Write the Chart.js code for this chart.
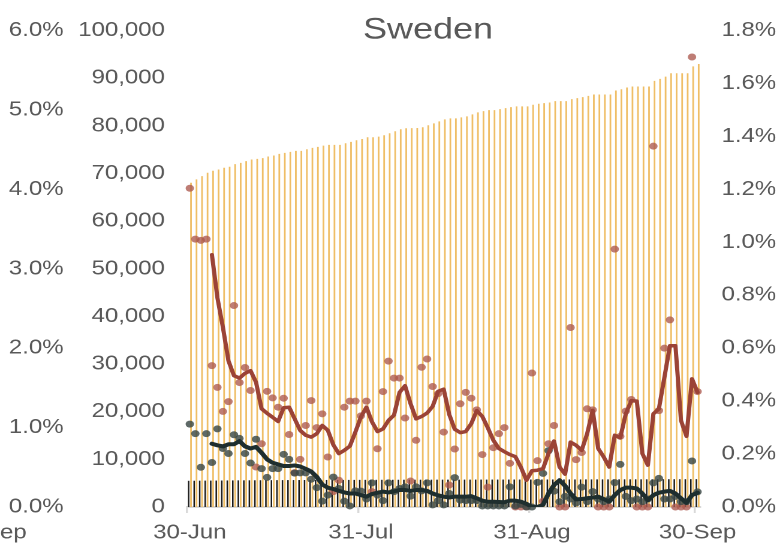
<!DOCTYPE html>
<html>
<head>
<meta charset="utf-8">
<title>Sweden</title>
<script src="https://cdn.jsdelivr.net/npm/chart.js@4.4.1/dist/chart.umd.min.js"></script>
<style>
	html, body { margin: 0; padding: 0; background: #fff; overflow: hidden; }
	#wrap { width: 648px; height: 552px; transform: scaleX(1.1991); transform-origin: 0 0; }
</style>
</head>
<body>
<div id="wrap"><canvas id="myChart" width="648" height="552"></canvas></div>
<script>
// labels shown on the date axis
const shownDates = ['30-Jun', '31-Jul', '31-Aug', '30-Sep'];
const titleText = 'Sweden';
const cutLabel = 'ep';

// cumulative confirmed cases (left inner axis)
const casesTotal = [
	68060, 68750, 69450, 70140, 70560, 70840, 71190, 71400, 71950, 72230,
	72580, 72930, 73070, 73210, 73560, 73760, 74110, 74320, 74530, 74740,
	74740, 75090, 75370, 75570, 75850, 75990, 75990, 75990, 76340, 76620,
	76960, 77240, 77590, 77590, 77730, 78010, 78430, 78850, 79270, 79480,
	79510, 79540, 79690, 80110, 80520, 80940, 81360, 81560, 81560, 81770,
	81980, 82400, 82820, 83090, 83300, 83300, 83510, 83720, 83920, 84070,
	84070, 84070, 84410, 84620, 84760, 84900, 85180, 85180, 85180, 85590,
	85800, 86010, 86290, 86570, 86570, 86570, 86570, 87410, 87680, 88030,
	88240, 88240, 88240, 88240, 89420, 89840, 90330, 91020, 91020, 91020,
	91020, 92480, 92970
];
// cumulative deaths (left inner axis)
const deathsTotal = [
	5500, 5510, 5525, 5540, 5545, 5550, 5560, 5575, 5585, 5595,
	5600, 5605, 5610, 5620, 5630, 5635, 5640, 5645, 5650, 5655,
	5660, 5662, 5665, 5670, 5672, 5675, 5678, 5680, 5685, 5688,
	5690, 5695, 5700, 5702, 5705, 5710, 5712, 5715, 5720, 5722,
	5725, 5728, 5730, 5732, 5735, 5738, 5740, 5741, 5742, 5745,
	5748, 5750, 5752, 5754, 5755, 5756, 5757, 5760, 5762, 5764,
	5765, 5766, 5768, 5770, 5772, 5775, 5778, 5779, 5780, 5782,
	5785, 5788, 5790, 5792, 5793, 5794, 5795, 5800, 5805, 5808,
	5810, 5811, 5812, 5815, 5820, 5825, 5830, 5832, 5833, 5834,
	5835, 5845, 5850
];
// daily case growth, % (right axis)
const caseGrowth = [
	1.204, 1.012, 1.007, 1.012, 0.534, 0.452, 0.361, 0.398, 0.761, 0.470,
	0.527, 0.440, 0.151, 0.239, 0.437, 0.412, 0.377, 0.411, 0.274, 0.130,
	0.180, 0.308, 0.402, 0.300, 0.352, 0.189, 0.058, 0.101, 0.377, 0.400,
	0.400, 0.344, 0.400, 0.058, 0.220, 0.436, 0.551, 0.487, 0.487, 0.336,
	0.098, 0.252, 0.528, 0.559, 0.455, 0.428, 0.283, 0.083, 0.219, 0.390,
	0.433, 0.411, 0.367, 0.198, 0.075, 0.224, 0.277, 0.300, 0.165, 0.000,
	0.000, 0.000, 0.506, 0.175, 0.022, 0.239, 0.308, 0.000, 0.000, 0.678,
	0.179, 0.206, 0.371, 0.367, 0.000, 0.000, 0.000, 0.974, 0.267, 0.362,
	0.406, 0.000, 0.000, 0.000, 1.363, 0.364, 0.600, 0.707, 0.000, 0.000,
	0.000, 1.700, 0.436
];
const caseGrowthAvg = [
	null, null, null, null, 0.953, 0.790, 0.678, 0.552, 0.496, 0.487,
	0.505, 0.515, 0.471, 0.371, 0.354, 0.339, 0.323, 0.375, 0.377, 0.333,
	0.289, 0.271, 0.264, 0.277, 0.308, 0.290, 0.235, 0.202, 0.214, 0.230,
	0.283, 0.340, 0.377, 0.322, 0.285, 0.295, 0.327, 0.347, 0.433, 0.458,
	0.390, 0.333, 0.342, 0.355, 0.380, 0.437, 0.445, 0.350, 0.294, 0.281,
	0.285, 0.315, 0.364, 0.342, 0.299, 0.252, 0.221, 0.209, 0.198, 0.190,
	0.150, 0.101, 0.137, 0.139, 0.145, 0.202, 0.249, 0.151, 0.124, 0.245,
	0.233, 0.214, 0.277, 0.365, 0.221, 0.189, 0.151, 0.271, 0.262, 0.352,
	0.402, 0.400, 0.202, 0.158, 0.352, 0.371, 0.490, 0.609, 0.609, 0.327,
	0.267, 0.484, 0.433
];
// daily death growth, % (right axis)
const deathGrowth = [
	0.313, 0.277, 0.150, 0.277, 0.168, 0.295, 0.221, 0.202, 0.273, 0.259,
	0.202, 0.166, 0.256, 0.145, 0.112, 0.145, 0.145, 0.199, 0.180, 0.128,
	0.129, 0.129, 0.105, 0.073, 0.022, 0.045, 0.113, 0.070, 0.022, 0.004,
	0.061, 0.060, 0.030, 0.091, 0.045, 0.024, 0.091, 0.058, 0.070, 0.076,
	0.041, 0.076, 0.061, 0.091, 0.008, 0.024, 0.008, 0.051, 0.111, 0.026,
	0.024, 0.024, 0.024, 0.004, 0.004, 0.004, 0.004, 0.004, 0.076, 0.004,
	0.010, 0.000, 0.000, 0.093, 0.127, 0.213, 0.060, 0.020, 0.040, 0.030,
	0.015, 0.075, 0.020, 0.058, 0.030, 0.020, 0.030, 0.092, 0.161, 0.040,
	0.024, 0.030, 0.020, 0.030, 0.091, 0.108, 0.030, 0.030, 0.040, 0.020,
	0.020, 0.174, 0.057
];
const deathGrowthAvg = [
	null, null, null, null, 0.239, 0.233, 0.229, 0.237, 0.237, 0.249,
	0.229, 0.221, 0.227, 0.205, 0.180, 0.167, 0.161, 0.155, 0.155, 0.157,
	0.153, 0.144, 0.134, 0.114, 0.085, 0.073, 0.068, 0.061, 0.055, 0.051,
	0.051, 0.045, 0.039, 0.049, 0.054, 0.058, 0.055, 0.059, 0.064, 0.064,
	0.061, 0.064, 0.064, 0.061, 0.051, 0.044, 0.039, 0.036, 0.039, 0.039,
	0.039, 0.041, 0.033, 0.024, 0.020, 0.020, 0.019, 0.018, 0.024, 0.024,
	0.020, 0.012, 0.000, 0.000, 0.008, 0.051, 0.083, 0.101, 0.080, 0.051,
	0.029, 0.030, 0.033, 0.036, 0.039, 0.030, 0.020, 0.045, 0.064, 0.073,
	0.073, 0.070, 0.051, 0.026, 0.045, 0.054, 0.058, 0.061, 0.051, 0.033,
	0.016, 0.045, 0.054
];

// one label per day from 30-Jun
const months = ['Jan', 'Feb', 'Mar', 'Apr', 'May', 'Jun', 'Jul', 'Aug', 'Sep', 'Oct', 'Nov', 'Dec'];
const dates = casesTotal.map((v, i) => {
	const d = new Date(2020, 5, 30 + i);
	return d.getDate() + '-' + months[d.getMonth()];
});
const tickIndex = dates.map((d, i) => shownDates.includes(d) ? i : -1).filter(i => i >= 0);

const FONT = '"Liberation Sans", Arial, sans-serif';
const GREY = '#595959';

const extraText = {
	id: 'extraText',
	afterDraw(chart) {
		const ctx = chart.ctx;
		ctx.save();
		ctx.fillStyle = GREY;
		ctx.textBaseline = 'middle';
		ctx.font = '30px ' + FONT;
		ctx.textAlign = 'center';
		ctx.fillText(titleText, 357, 30);
		ctx.font = '20px ' + FONT;
		ctx.textAlign = 'left';
		ctx.fillText(cutLabel, 0, 533);
		ctx.restore();
	}
};

const dotSet = (data, color, order) => ({
	type: 'line',
	data: data,
	yAxisID: 'yRate',
	showLine: false,
	pointRadius: 3.5,
	pointHoverRadius: 3.5,
	pointBorderWidth: 0,
	pointBackgroundColor: color,
	clip: false,
	order: order
});
const avgSet = (data, color, width, order) => ({
	type: 'line',
	data: data,
	yAxisID: 'yRate',
	borderColor: color,
	borderWidth: width,
	pointRadius: 0,
	tension: 0,
	borderJoinStyle: 'round',
	borderCapStyle: 'round',
	order: order
});

new Chart(document.getElementById('myChart'), {
	type: 'bar',
	data: {
		labels: dates,
		datasets: [
			{
				data: deathsTotal,
				yAxisID: 'yCount',
				backgroundColor: '#1a1a1a',
				categoryPercentage: 0.85,
				barPercentage: 0.65,
				order: 5
			},
			{
				data: casesTotal,
				yAxisID: 'yCount',
				backgroundColor: '#EFBE66',
				categoryPercentage: 0.85,
				barPercentage: 0.72,
				order: 6
			},
			dotSet(caseGrowth, 'rgba(172,88,78,0.78)', 4),
			dotSet(deathGrowth, 'rgba(58,72,70,0.82)', 3),
			avgSet(caseGrowthAvg, '#9B4336', 3.5, 1),
			avgSet(deathGrowthAvg, '#1E2E2E', 4, 0)
		]
	},
	options: {
		responsive: false,
		devicePixelRatio: 2,
		animation: false,
		layout: { padding: { top: 28, left: 0, right: 0, bottom: 0 } },
		plugins: { legend: { display: false }, tooltip: { enabled: false } },
		scales: {
			x: {
				offset: true,
				afterFit(s) { s.height = 45; },
				border: { display: true, color: '#d9d9d9', width: 2 },
				grid: {
					offset: true,
					drawOnChartArea: false,
					drawTicks: true,
					tickLength: 6,
					lineWidth: 1.7,
					color: (c) => tickIndex.includes(c.index) ? '#d9d9d9' : 'rgba(0,0,0,0)'
				},
				ticks: {
					autoSkip: false,
					maxRotation: 0,
					minRotation: 0,
					padding: 8,
					color: GREY,
					font: { family: FONT, size: 20 },
					callback: (v, i) => tickIndex.includes(i) ? dates[i] : ''
				}
			},
			yPct: {
				position: 'left',
				weight: 10,
				min: 0,
				max: 6,
				afterFit(s) { s.width = 56; },
				border: { display: false },
				grid: { display: false, drawTicks: false },
				ticks: {
					stepSize: 1,
					padding: 3,
					color: GREY,
					font: { family: FONT, size: 20 },
					callback: (v) => v.toFixed(1) + '%'
				}
			},
			yCount: {
				position: 'left',
				weight: 0,
				min: 0,
				max: 100000,
				afterFit(s) { s.width = 100; },
				border: { display: false },
				grid: { display: false, drawTicks: false },
				ticks: {
					stepSize: 10000,
					padding: 18.5,
					color: GREY,
					font: { family: FONT, size: 20 },
					callback: (v) => v.toLocaleString('en-US')
				}
			},
			yRate: {
				position: 'right',
				min: 0,
				max: 1.8,
				afterFit(s) { s.width = 64; },
				border: { display: false },
				grid: { display: false, drawTicks: false },
				ticks: {
					stepSize: 0.2,
					padding: 17.7,
					color: GREY,
					font: { family: FONT, size: 20 },
					callback: (v) => v.toFixed(1) + '%'
				}
			}
		}
	},
	plugins: [extraText]
});
</script>
</body>
</html>
